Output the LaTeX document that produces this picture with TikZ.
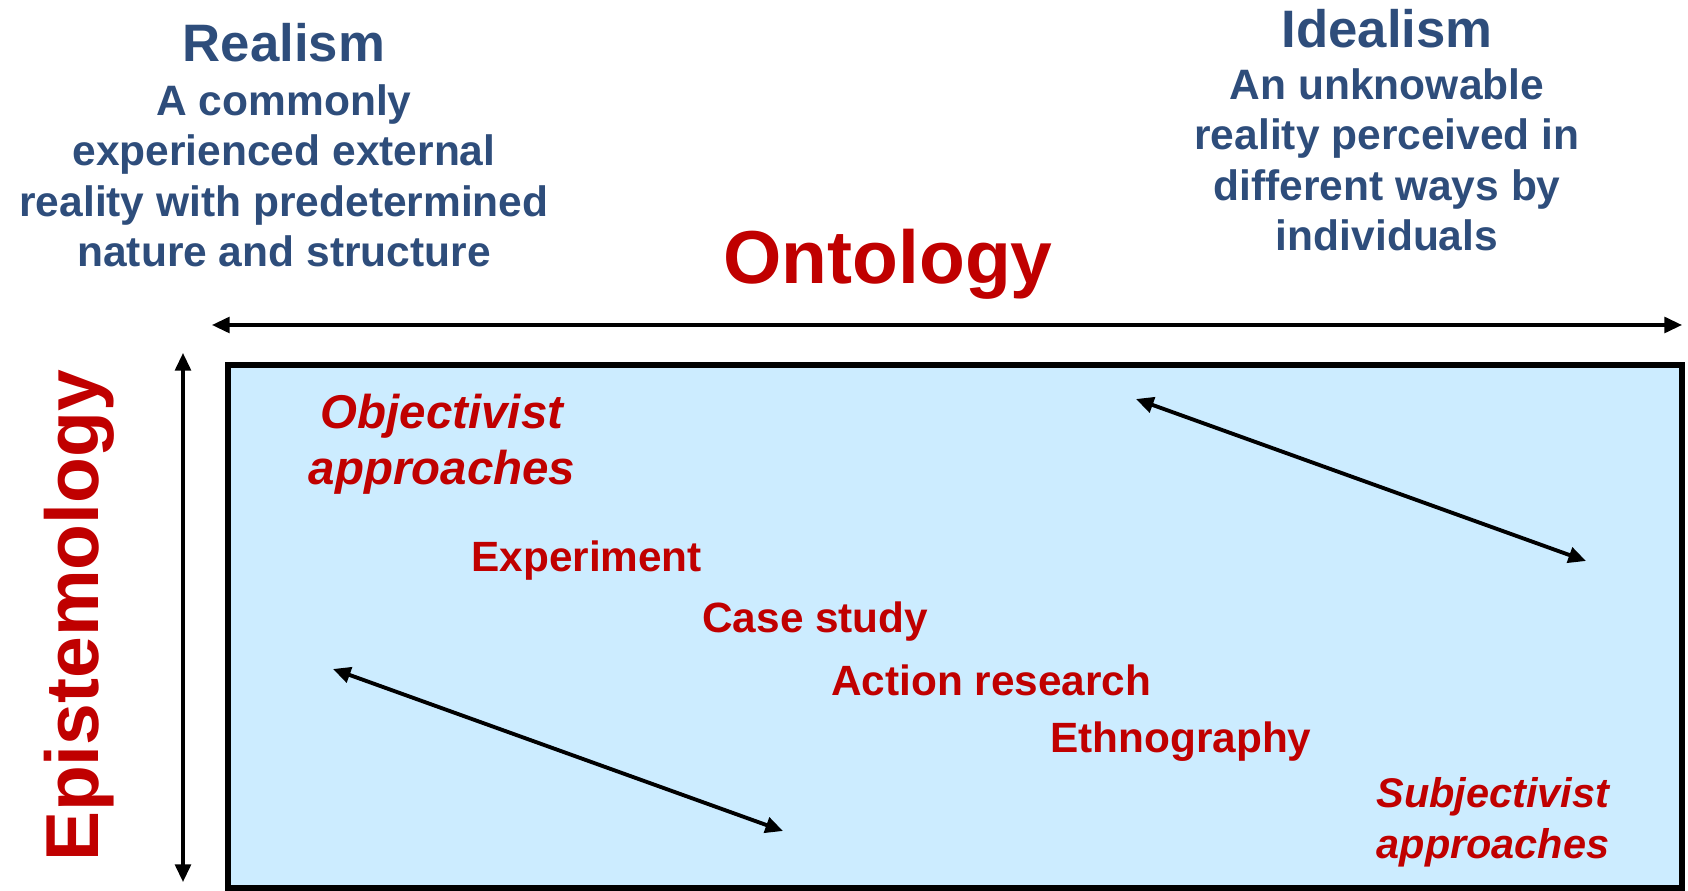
\documentclass[tikz,border=0pt]{standalone}
\usepackage{fontspec}
\setmainfont{Liberation Sans}
\usetikzlibrary{arrows.meta}

\definecolor{headblue}{HTML}{2E4D7B}
\definecolor{methodred}{HTML}{C00000}
\definecolor{boxblue}{HTML}{CCECFF}

\begin{document}
\begin{tikzpicture}[x=0.02cm, y=-0.02cm,
	head/.style={font=\fontsize{30}{36}\selectfont\bfseries, text=headblue, inner sep=0pt},
	view/.style={font=\fontsize{24.2}{28.8}\selectfont\bfseries, text=headblue, align=center, inner sep=0pt},
	axisname/.style={font=\fontsize{42.7}{50}\selectfont\bfseries, text=methodred, inner sep=0pt},
	method/.style={font=\fontsize{24.1}{28.7}\selectfont\bfseries, text=methodred, inner sep=0pt, anchor=base west},
	approach/.style={text=methodred, align=center, inner sep=0pt},
	scale arrow/.style={{Triangle[length=10pt,width=9pt]}-{Triangle[length=10pt,width=9pt]}, line width=1.8pt},
	trend arrow/.style={{Triangle[length=10pt,width=9pt]}-{Triangle[length=10pt,width=9pt]}, line width=2.2pt}]
	\useasboundingbox (0,0) rectangle (1688,891);

	% Field of approaches:
	\draw[line width=3.4pt, fill=boxblue] (228,365) rectangle (1682,888);

	% Ends of the scales:
	\coordinate (ontoL) at (212,325);
	\coordinate (ontoR) at (1682,325);
	\coordinate (episT) at (183,353);
	\coordinate (episB) at (183,882);
	\coordinate (upperA) at (1136,399);
	\coordinate (upperB) at (1586,561);
	\coordinate (lowerA) at (333,669);
	\coordinate (lowerB) at (783,831);

	% Positions on the ontology scale (base = last line):
	\node[head, anchor=base] (realism) at (284,62) {Realism};
	\node[view, anchor=base] (realdesc) at (284,267) {A commonly\\experienced external\\reality with predetermined\\nature and structure};
	\node[head, anchor=base] (idealism) at (1387,48) {Idealism};
	\node[view, anchor=base] (idealdesc) at (1387,251) {An unknowable\\reality perceived in\\different ways by\\individuals};

	% Axis names:
	\node[axisname, anchor=base] (ontology) at (888,284) {Ontology};
	\node[axisname, anchor=base, rotate=90] (epistemology) at (98,616) {Epistemology};

	% Approaches and methods:
	\node[approach, anchor=base, font=\fontsize{27}{32}\selectfont\bfseries\itshape] (objective) at (442,485) {Objectivist\\approaches};
	\node[approach, anchor=base, font=\fontsize{23.6}{28.6}\selectfont\bfseries\itshape] (subjective) at (1493,858) {Subjectivist\\approaches};
	\node[method] (experiment) at (471,572) {Experiment};
	\node[method] (casestudy) at (702,633) {Case study};
	\node[method] (action) at (831,696) {Action research};
	\node[method] (ethno) at (1050,752) {Ethnography};

	% Scales:
	\draw[scale arrow] (ontoL) -- (ontoR);
	\draw[scale arrow] (episT) -- (episB);
	\draw[trend arrow] (upperA) -- (upperB);
	\draw[trend arrow] (lowerA) -- (lowerB);
\end{tikzpicture}
\end{document}
